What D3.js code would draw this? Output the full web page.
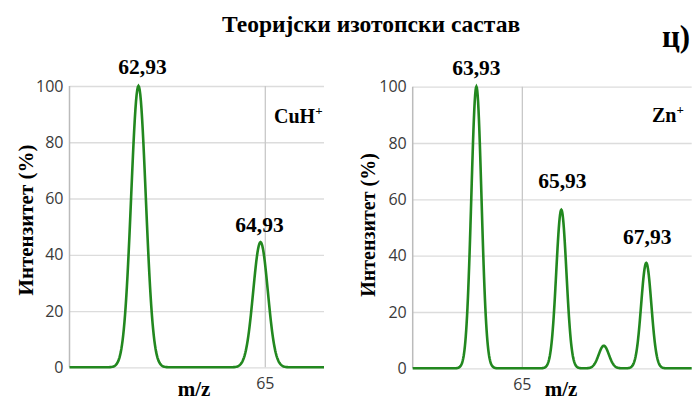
<!DOCTYPE html>
<html>
<head>
<meta charset="utf-8">
<script src="https://cdn.jsdelivr.net/npm/d3@7"></script>
<style>
  body { margin: 0; background: #fff; }
  .serif { font-family: "Liberation Serif", "Times New Roman", serif; font-weight: bold; fill: #000; }
  .tick text { font-family: "Open Sans", sans-serif; font-size: 16px; fill: #3a3a3a; }
</style>
</head>
<body>
<script>
// peaks of the theoretical isotope pattern (m/z, relative intensity %)
var cuMz = [62.93, 64.93];
var cuInt = [100, 44.5];
var cuLabels = ["62,93", "64,93"];

var znMz = [63.93, 65.93, 66.93, 67.93];
var znInt = [100, 56.3, 8.0, 37.4];
var znLabels = ["63,93", "65,93", "", "67,93"];

var yTicks = [0, 20, 40, 60, 80, 100];
var xTicks = [65];

var title = "Теоријски изотопски састав";
var yTitle = "Интензитет (%)";
var xTitle = "m/z";

var W = 700, H = 400;
var green = "#22881f";
var sigma = 0.12; // peak width in m/z units

var svg = d3.select("body").append("svg")
    .attr("width", W)
    .attr("height", H);

// panel settings
var panels = [
  { mz: cuMz, ints: cuInt, labels: cuLabels, ion: "CuH", domain: [61.8, 65.97],
    left: 69.5, right: 324, top: 86, bottom: 367.3,
    labelDy: [12, 10], labelDx: [4, -1],
    ionX: 274, ionY: 123, yT: [33, 220], yTsize: 21, xT: [194, 396] },
  { mz: znMz, ints: znInt, labels: znLabels, ion: "Zn", domain: [62.43, 69.0],
    left: 412.7, right: 691.7, top: 86.7, bottom: 368.3,
    labelDy: [12, 22, 0, 19], labelDx: [0, 1, 0, 1],
    ionX: 652, ionY: 122, yT: [375, 225], yTsize: 20, xT: [561, 396] }
];

panels.forEach(function (p) {
  var x = d3.scaleLinear().domain(p.domain).range([p.left, p.right]);
  var y = d3.scaleLinear().domain([0, 100]).range([p.bottom, p.top]);
  var width = p.right - p.left;

  // horizontal grid + y labels
  var gy = svg.append("g")
      .attr("transform", "translate(" + p.left + ",0)")
      .call(d3.axisLeft(y).tickValues(yTicks).tickSize(-width).tickPadding(6));
  gy.select(".domain").remove();
  gy.selectAll(".tick line").attr("stroke", "#dcdcdc").attr("stroke-width", 1.3);

  // vertical grid at 65
  var gx = svg.append("g")
      .attr("transform", "translate(0," + p.bottom + ")")
      .call(d3.axisBottom(x).tickValues(xTicks).tickFormat(d3.format("d"))
        .tickSize(-(p.bottom - p.top)).tickPadding(10));
  gx.select(".domain").remove();
  gx.selectAll(".tick line").attr("stroke", "#c8c8c8").attr("stroke-width", 1.3);

  // y axis line
  svg.append("line")
      .attr("x1", p.left).attr("x2", p.left)
      .attr("y1", p.top).attr("y2", p.bottom)
      .attr("stroke", "#bbb").attr("stroke-width", 1.5);

  // profile built from the peak list
  var pts = d3.range(p.domain[0], p.domain[1] + 0.001, 0.01).map(function (m) {
    var v = 0;
    p.mz.forEach(function (c, i) {
      v += p.ints[i] * Math.exp(-Math.pow(m - c, 2) / (2 * sigma * sigma));
    });
    return [m, v];
  });
  svg.append("path")
      .datum(pts)
      .attr("fill", "none")
      .attr("stroke", green)
      .attr("stroke-width", 2.6)
      .attr("d", d3.line().x(function (d) { return x(d[0]); }).y(function (d) { return y(d[1]); }));

  // peak labels
  p.mz.forEach(function (c, i) {
    if (!p.labels[i]) return;
    svg.append("text")
        .attr("class", "serif")
        .attr("text-anchor", "middle")
        .attr("font-size", 21.5)
        .attr("x", x(c) + p.labelDx[i])
        .attr("y", y(p.ints[i]) - p.labelDy[i])
        .text(p.labels[i]);
  });

  // ion name
  var ion = svg.append("text")
      .attr("class", "serif")
      .attr("font-size", 20)
      .attr("x", p.ionX)
      .attr("y", p.ionY);
  ion.append("tspan").text(p.ion);
  ion.append("tspan").attr("font-size", 13).attr("dy", -8).text("+");

  // axis titles
  svg.append("text")
      .attr("class", "serif")
      .attr("text-anchor", "middle")
      .attr("font-size", p.yTsize)
      .attr("transform", "translate(" + p.yT[0] + "," + p.yT[1] + ") rotate(-90)")
      .text(yTitle);
  svg.append("text")
      .attr("class", "serif")
      .attr("text-anchor", "middle")
      .attr("font-size", 21)
      .attr("x", p.xT[0])
      .attr("y", p.xT[1])
      .text(xTitle);
});

svg.append("text")
    .attr("class", "serif")
    .attr("text-anchor", "middle")
    .attr("font-size", 23.5)
    .attr("x", 371)
    .attr("y", 32)
    .text(title);

svg.append("text")
    .attr("class", "serif")
    .attr("font-size", 31)
    .attr("x", 662)
    .attr("y", 47)
    .text("ц)");
</script>
</body>
</html>
